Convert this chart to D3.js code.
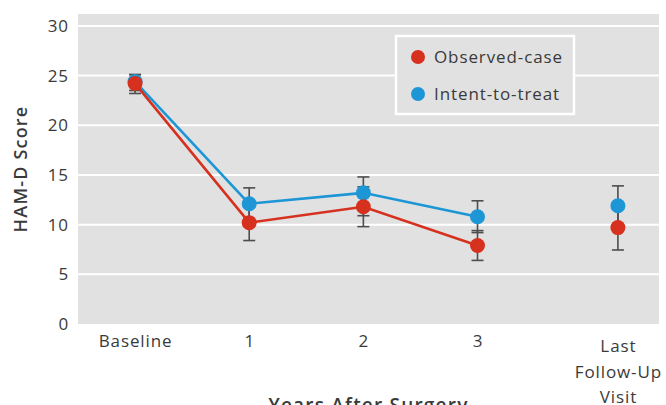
<!DOCTYPE html>
<html>
<head>
<meta charset="utf-8">
<script src="https://cdn.jsdelivr.net/npm/d3@7"></script>
<style>
  body { margin: 0; background: #fff; }
  .chart { display: block; }
  .text { font-family: 'Open Sans', sans-serif; fill: #3a3a3a; letter-spacing: 0.9px; }
  .axis-title { font-size: 18px; font-weight: 600; letter-spacing: 1.2px; }
  .tick text { font-family: 'Open Sans', sans-serif; font-size: 17px; fill: #3a3a3a; letter-spacing: 0.9px; }
</style>
</head>
<body>
<svg class="chart"></svg>
<script>
const categories = ['Baseline', '1', '2', '3', 'Last|Follow-Up|Visit'];
const categoryPositions = [0, 1, 2, 3, 4.23];
const yTicks = [0, 5, 10, 15, 20, 25, 30];

const observedValues = [24.2, 10.2, 11.8, 7.9, 9.7];
const observedLow = [23.2, 8.4, 9.8, 6.4, 7.45];
const observedHigh = [25.1, 12.0, 13.8, 9.4, 12.0];

const ittValues = [24.4, 12.1, 13.2, 10.8, 11.9];
const ittLow = [23.5, 10.5, 10.9, 9.2, 9.9];
const ittHigh = [25.1, 13.7, 14.8, 12.4, 13.9];

const seriesNames = ['Observed-case', 'Intent-to-treat'];
const seriesColors = ['#d6301e', '#1d96d6'];

const buildSeries = (values, low, high) => values.map((value, i) => ({
  pos: categoryPositions[i], value, low: low[i], high: high[i],
}));

const drawErrorBars = (chart, points, xScale, yScale) => {
  const capHalf = 6;
  const bars = chart.append('g').attr('stroke', '#4d4d4d').attr('stroke-width', 1.6);

  points.forEach(({ pos, low, high }) => {
    const cx = xScale(pos);
    bars.append('line').attr('x1', cx).attr('x2', cx).attr('y1', yScale(low)).attr('y2', yScale(high));
    bars.append('line').attr('x1', cx - capHalf).attr('x2', cx + capHalf).attr('y1', yScale(low)).attr('y2', yScale(low));
    bars.append('line').attr('x1', cx - capHalf).attr('x2', cx + capHalf).attr('y1', yScale(high)).attr('y2', yScale(high));
  });
};

const drawSeries = (chart, points, color, xScale, yScale) => {
  const line = d3.line().x(d => xScale(d.pos)).y(d => yScale(d.value));

  chart.append('path')
    .datum(points.slice(0, 4))
    .attr('d', line)
    .attr('fill', 'none')
    .attr('stroke', color)
    .attr('stroke-width', 2.6);

  chart.append('g').selectAll('circle')
    .data(points)
    .enter()
    .append('circle')
    .attr('cx', d => xScale(d.pos))
    .attr('cy', d => yScale(d.value))
    .attr('r', 7.5)
    .attr('fill', color);
};

const drawLegend = (chart) => {
  const legend = chart.append('g').attr('transform', 'translate(396, 36)');

  legend.append('rect')
    .attr('width', 178).attr('height', 78)
    .attr('fill', '#e1e1e1').attr('stroke', '#fff').attr('stroke-width', 2.5);

  seriesNames.forEach((name, i) => {
    legend.append('circle').attr('cx', 22).attr('cy', 21 + i * 37).attr('r', 7).attr('fill', seriesColors[i]);
    legend.append('text')
      .classed('text', true)
      .attr('x', 38).attr('y', 21 + i * 37).attr('dy', '0.36em')
      .style('font-size', '17px')
      .text(name);
  });
};

const startApp = () => {
  const viewBox = { width: 666, height: 405 };
  const plot = { left: 78, right: 659, top: 14, bottom: 324 };
  const xScale = d3.scaleLinear().domain([-0.5, 4.59]).range([plot.left, plot.right]);
  const yScale = d3.scaleLinear().domain([0, 31.2]).range([plot.bottom, plot.top]);

  const chart = d3.select('.chart')
    .attr('width', viewBox.width)
    .attr('height', viewBox.height);

  chart.append('rect')
    .attr('x', plot.left).attr('y', plot.top)
    .attr('width', plot.right - plot.left).attr('height', plot.bottom - plot.top)
    .attr('fill', '#e1e1e1');

  chart.append('g').selectAll('line')
    .data(yTicks.filter(t => t > 0))
    .enter()
    .append('line')
    .attr('x1', plot.left).attr('x2', plot.right)
    .attr('y1', d => yScale(d)).attr('y2', d => yScale(d))
    .attr('stroke', '#fff').attr('stroke-width', 2);

  const yAxis = d3.axisLeft(yScale).tickValues(yTicks).tickSize(0).tickPadding(9);
  chart.append('g').attr('transform', `translate(${plot.left}, 0)`).call(yAxis)
    .call(g => g.select('.domain').remove());

  const xAxis = d3.axisBottom(xScale).tickValues(categoryPositions)
    .tickFormat((d, i) => categories[i]).tickSize(0).tickPadding(11);
  const xAxisGroup = chart.append('g').attr('transform', `translate(0, ${plot.bottom})`).call(xAxis)
    .call(g => g.select('.domain').remove());

  xAxisGroup.selectAll('.tick text').each(function (d, i) {
    const parts = categories[i].split('|');
    if (parts.length === 1) return;
    const el = d3.select(this).text(null).attr('y', 16);
    parts.forEach((part, j) => {
      el.append('tspan').attr('x', 0).attr('dy', j === 0 ? '0.71em' : '1.5em').text(part);
    });
  });

  chart.append('text')
    .classed('text axis-title', true)
    .attr('transform', 'rotate(-90)')
    .attr('x', -169).attr('y', 27)
    .attr('text-anchor', 'middle')
    .text('HAM-D Score');

  chart.append('text')
    .classed('text axis-title', true)
    .attr('x', (plot.left + plot.right) / 2).attr('y', 412)
    .attr('text-anchor', 'middle')
    .style('font-size', '19px')
    .text('Years After Surgery');

  const observed = buildSeries(observedValues, observedLow, observedHigh);
  const itt = buildSeries(ittValues, ittLow, ittHigh);

  drawErrorBars(chart, itt, xScale, yScale);
  drawErrorBars(chart, observed, xScale, yScale);
  drawSeries(chart, itt, seriesColors[1], xScale, yScale);
  drawSeries(chart, observed, seriesColors[0], xScale, yScale);
  drawLegend(chart);
};

window.onload = startApp;
</script>
</body>
</html>
